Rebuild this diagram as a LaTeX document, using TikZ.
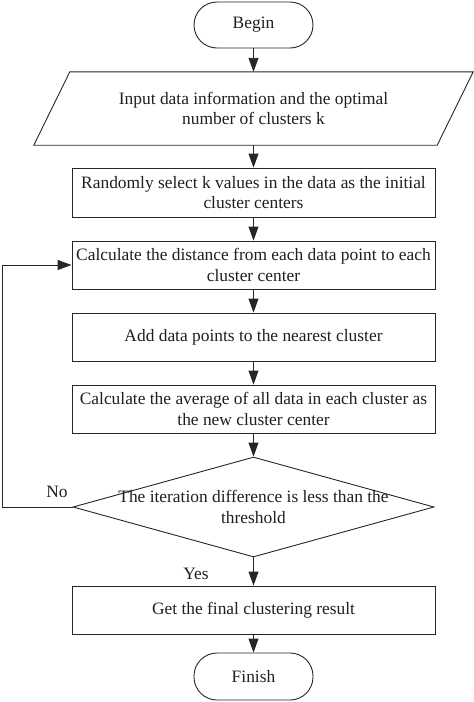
\documentclass[tikz,border=0pt]{standalone}
\usepackage{fontspec}
\setmainfont{Liberation Serif}
\usetikzlibrary{shapes.geometric,arrows.meta}
\begin{document}
\begin{tikzpicture}[x=1pt,y=-1pt,
  every node/.style={font=\fontsize{17.4}{20.5}\selectfont, text=black!88},
  box/.style={draw=black!85, line width=0.9pt, minimum width=363pt, inner sep=0pt, align=center},
  term/.style={draw=black!85, line width=0.9pt, rounded corners=23pt, minimum width=119pt, inner sep=0pt},
  arr/.style={draw=black!85, line width=0.9pt, -{Triangle[length=14pt,width=10pt]}},
  lbl/.style={inner sep=0pt}]
\useasboundingbox (0,0) rectangle (474,702);
\node[term, minimum height=46pt] (begin) at (253.5,25) {Begin};
\node[inner sep=0pt, minimum width=403pt, minimum height=73pt, align=center] (input) at (253.5,108.5)
  {Input data information and the optimal\\number of clusters k};
\draw[black!85, line width=0.9pt] ([xshift=18pt]input.north west) -- ([xshift=18pt]input.north east)
  -- ([xshift=-18pt]input.south east) -- ([xshift=-18pt]input.south west) -- cycle;
\node[box, minimum height=49pt] (b1) at (253.5,192.5) {Randomly select k values in the data as the initial\\cluster centers};
\node[box, minimum height=48pt] (b2) at (253.5,265) {Calculate the distance from each data point to each\\cluster center};
\node[box, minimum height=48pt] (b3) at (253.5,337) {Add data points to the nearest cluster};
\node[box, minimum height=48pt] (b4) at (253.5,409) {Calculate the average of all data in each cluster as\\the new cluster center};
\node[diamond, draw=black!85, line width=0.9pt, minimum width=361pt, minimum height=100pt, inner sep=0pt] (dec) at (253.5,507) {};
\node[align=center, inner sep=0pt] (dect) at (253.5,507) {The iteration difference is less than the\\threshold};
\node[box, minimum height=48pt] (res) at (253.5,610) {Get the final clustering result};
\node[term, minimum height=47pt] (fin) at (253.5,676.5) {Finish};
\coordinate (lp) at (2,507);
\draw[arr] (begin) -- (begin |- input.north);
\draw[arr] (input.south) -- (b1);
\draw[arr] (b1) -- (b2);
\draw[arr] (b2) -- (b3);
\draw[arr] (b3) -- (b4);
\draw[arr] (b4) -- (dec);
\draw[arr] (dec) -- (res);
\draw[arr] (res) -- (fin);
\draw[arr] (dec.west) -- (lp) |- (b2.west);
\node[lbl] (no) at (57,492) {No};
\node[lbl] (yes) at (196,574) {Yes};
\end{tikzpicture}
\end{document}
